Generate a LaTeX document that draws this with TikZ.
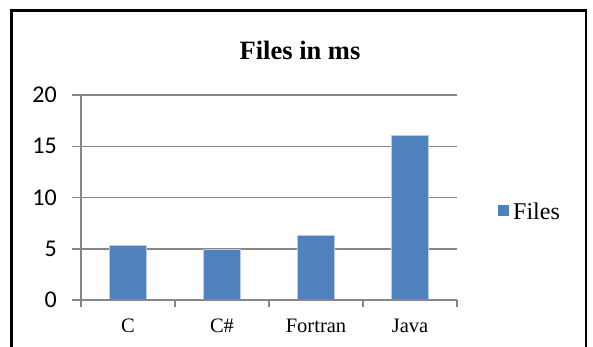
\documentclass[tikz,border=0pt]{standalone}
\usepackage{fontspec}
\setmainfont{Liberation Serif}
\newfontfamily\calfont{Carlito}
\definecolor{barblue}{HTML}{4F81BD}
\definecolor{baredge}{HTML}{B9CDE5}
\definecolor{gridgray}{HTML}{878787}
\begin{document}
\begin{tikzpicture}[x=1pt,y=-1pt,
  grid/.style={draw=gridgray,line width=1.5pt},
  bar/.style={fill=barblue,draw=baredge,line width=0.5pt},
  ylab/.style={font=\calfont\fontsize{24}{24}\selectfont,anchor=east,inner sep=0pt},
  xlab/.style={font=\fontsize{20.5}{20.5}\selectfont,anchor=center,inner sep=0pt},
  frame/.style={draw=black,line width=2.7pt}]
\useasboundingbox (0,0) rectangle (593,347);
\draw[frame] (11.5,360) -- (11.5,10.5) -- (586,10.5) -- (586,360);
\node[font=\bfseries\fontsize{26.5}{26.5}\selectfont,inner sep=0pt] (title) at (300,50) {Files in ms};
% grid
\foreach \v/\y in {20/95,15/146.3,10/197.6,5/248.9}{
  \draw[grid] (72,\y) -- (457,\y);
  \node[ylab] (y\v) at (57,\y) {\v};
}
\node[ylab] (y0) at (57,300.2) {0};
% bars
\def\u{10.26}
\foreach \c/\val/\nm in {0/5.4/c1,1/5.0/c2,2/6.3/c3,3/16.1/c4}{
  \pgfmathsetmacro\xl{109.5+\c*94}
  \pgfmathsetmacro\xr{\xl+37}
  \pgfmathsetmacro\yt{300.2-\val*\u}
  \draw[bar] (\xl,300.2) rectangle (\xr,\yt);
}
% axes
\draw[grid] (81,95) -- (81,300.2);
\draw[grid] (72,300.2) -- (457,300.2);
\foreach \i in {0,1,2,3,4}{
  \draw[grid] (81+\i*94,300.2) -- (81+\i*94,307);
}
\node[xlab] (lc) at (128,326) {C};
\node[xlab] (lcs) at (222,326) {C\#};
\node[xlab] (lf) at (316,326) {Fortran};
\node[xlab] (lj) at (410,326) {Java};
% legend
\fill[barblue] (498,205) rectangle (509,216);
\node[font=\fontsize{24}{24}\selectfont,anchor=west,inner sep=0pt] (leg) at (513,211) {Files};
\end{tikzpicture}
\end{document}
